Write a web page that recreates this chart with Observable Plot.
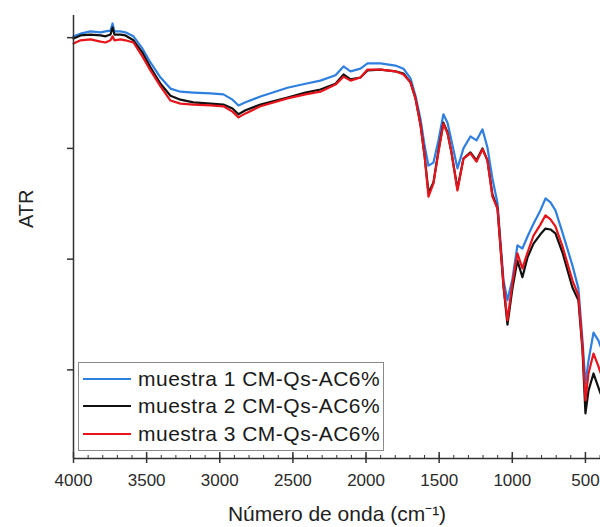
<!DOCTYPE html>
<html>
<head>
<meta charset="utf-8">
<script src="https://cdn.jsdelivr.net/npm/d3@7"></script>
<script src="https://cdn.jsdelivr.net/npm/@observablehq/plot@0.6"></script>
<style>
  html, body { margin: 0; padding: 0; background: #fff; }
  #wrap { position: relative; width: 600px; height: 527px; font-family: "Liberation Sans", Arial, sans-serif; }
  #legend { position: absolute; left: 78px; top: 362px; width: 306px; height: 89px; box-sizing: border-box;
            border: 1px solid #8a8a8a; background: #fff; padding-top: 2px; }
  .row { display: flex; align-items: center; height: 27.5px; }
  .sw { width: 48px; height: 2px; margin-left: 4px; margin-right: 7px; }
  .lab { font-size: 21px; letter-spacing: 0.5px; color: #1a1a1a; white-space: nowrap; }
</style>
</head>
<body>
<div id="wrap"><div id="chart"></div><div id="legend"></div></div>
<script>
// ---- data ----
const wavenumber = [4000,3952,3884,3815,3781,3747,3733,3720,3679,3645,3590,3528,3474,3405,3337,3269,3180,3063,2975,2913,2872,2824,2722,2537,2414,2312,2209,2154,2106,2038,1990,1901,1799,1744,1696,1662,1628,1600,1573,1539,1505,1471,1443,1416,1375,1334,1286,1245,1204,1170,1136,1101,1060,1033,999,965,931,896,855,808,773,739,705,657,589,548,520,500,479,445,411,397];
const muestra1 = [95.3,95.9,96.4,96.2,96.4,96.6,98.2,96.4,96.4,96.2,95.3,92.5,89.4,86.0,83.5,82.8,82.6,82.4,82.2,81.0,79.7,80.4,81.7,83.7,84.6,85.3,86.5,88.5,87.4,88.0,89.2,89.2,88.7,88.0,85.8,81.9,76.7,70.7,66.1,66.8,71.8,77.7,75.8,71.8,65.5,70.0,72.7,71.8,74.3,70.2,63.2,57.6,40.2,35.7,40.6,48.1,47.4,50.1,53.0,56.0,58.7,57.8,56.0,51.0,43.6,38.4,26.6,16.9,22.1,28.4,26.6,25.3];
const muestra2 = [94.8,95.5,95.7,95.5,95.3,95.7,97.3,95.7,95.7,95.5,94.4,91.6,88.3,84.6,81.9,81.0,80.4,80.1,79.9,79.0,77.7,78.6,79.9,81.5,82.6,83.3,84.6,86.7,85.6,86.0,87.6,87.8,87.4,86.9,84.9,81.3,75.4,68.4,60.0,62.3,69.5,75.8,73.6,69.1,60.9,67.7,69.1,67.3,70.0,67.3,59.6,56.4,38.8,30.2,38.4,44.7,40.9,45.4,48.5,50.6,51.9,51.7,50.8,46.5,38.6,35.7,24.4,10.2,15.3,19.2,16.0,14.7];
const muestra3 = [93.7,94.4,94.6,94.1,93.9,94.4,95.3,94.4,94.6,94.4,93.9,90.7,87.6,84.0,80.8,80.1,79.9,79.7,79.5,78.3,77.0,77.9,79.5,81.3,82.2,82.8,84.4,86.2,85.3,86.0,87.8,87.8,87.4,86.7,84.9,81.3,75.4,68.4,59.1,62.1,69.1,75.6,73.4,69.1,60.5,67.7,68.9,67.0,69.8,67.3,59.1,56.4,39.1,31.2,39.7,46.3,42.9,46.5,50.3,52.8,54.9,54.0,52.4,47.9,40.2,36.8,25.1,13.1,19.2,23.7,20.8,19.4];
const seriesNames = ["muestra 1 CM-Qs-AC6%", "muestra 2 CM-Qs-AC6%", "muestra 3 CM-Qs-AC6%"];
const seriesColors = ["#2f7fe0", "#111111", "#e8141c"];
const xMajorTicks = [4000, 3500, 3000, 2500, 2000, 1500, 1000, 500];
const xMinorTicks = d3.range(4000, 399, -100);
const yTicks = [20, 45, 70, 95];
const xTitle = "Número de onda (cm⁻¹)";
const yTitle = "ATR";

const seriesValues = [muestra1, muestra2, muestra3];
const tables = seriesValues.map((vals, k) => wavenumber.map((w, i) => ({w, v: vals[i], s: seriesNames[k]})));

const axisColor = "#333";
const chart = Plot.plot({
  width: 600, height: 527,
  marginLeft: 73, marginRight: 0, marginTop: 15, marginBottom: 69,
  style: {fontFamily: "'Liberation Sans', Arial, sans-serif", background: "#fff", overflow: "visible"},
  x: {domain: [4000, 397]},
  y: {domain: [0, 100]},
  marks: [
    ...tables.map((t, k) => Plot.line(t, {x: "w", y: "v", stroke: seriesColors[k], strokeWidth: 2.2})),
    Plot.ruleY([0], {stroke: axisColor, strokeWidth: 1.5}),
    Plot.ruleX([4000], {stroke: axisColor, strokeWidth: 1.5}),
    Plot.ruleX(xMinorTicks, {x: d => d, insetTop: 440, stroke: axisColor}),
    Plot.ruleX(xMajorTicks, {x: d => d, insetTop: 437, stroke: axisColor, strokeWidth: 1.5}),
    Plot.axisX({ticks: xMajorTicks, tickSize: 5, tickPadding: 10, fontSize: 17, label: null, stroke: axisColor, strokeWidth: 1.5, fill: "#2a2a2a", tickFormat: d => String(d)}),
    Plot.axisY({ticks: yTicks, tickSize: 6, tickFormat: () => "", label: null, stroke: axisColor, strokeWidth: 1.5}),
    Plot.text([xTitle], {text: d => d, frameAnchor: "bottom", dy: 62, dx: 0, fontSize: 21, fill: "#222"}),
    Plot.text([yTitle], {text: d => d, frameAnchor: "left", dx: -47, dy: -9, rotate: -90, fontSize: 20, fill: "#222"})
  ]
});
document.getElementById("chart").appendChild(chart);

const legend = document.getElementById("legend");
seriesNames.forEach((n, k) => {
  const row = document.createElement("div");
  row.className = "row";
  row.innerHTML = `<div class="sw" style="background:${seriesColors[k]}"></div><span class="lab">${n}</span>`;
  legend.appendChild(row);
});
</script>
</body>
</html>
